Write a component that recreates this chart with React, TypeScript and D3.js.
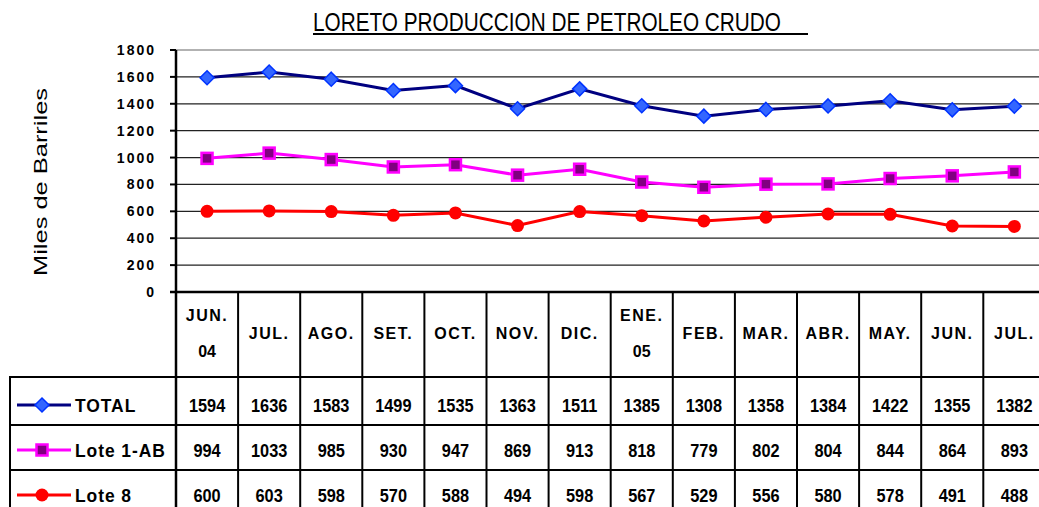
import React, { useEffect } from "react";
import * as d3 from "d3";

const months = ["JUN.|04", "JUL.", "AGO.", "SET.", "OCT.", "NOV.", "DIC.", "ENE.|05", "FEB.", "MAR.", "ABR.", "MAY.", "JUN.", "JUL."];
const total = [1594, 1636, 1583, 1499, 1535, 1363, 1511, 1385, 1308, 1358, 1384, 1422, 1355, 1382];
const lote1AB = [994, 1033, 985, 930, 947, 869, 913, 818, 779, 802, 804, 844, 864, 893];
const lote8 = [600, 603, 598, 570, 588, 494, 598, 567, 529, 556, 580, 578, 491, 488];
const yTicks = [0, 200, 400, 600, 800, 1000, 1200, 1400, 1600, 1800];

const W = 1039;
const H = 507;
const FONT = "'Liberation Sans', Arial, sans-serif";

const series = [
  { name: "TOTAL", values: total, line: "#000080", fill: "#3366ff", stroke: "#0033ff", shape: "diamond" },
  { name: "Lote 1-AB", values: lote1AB, line: "#ff00ff", fill: "#800080", stroke: "#ff00ff", shape: "square" },
  { name: "Lote 8", values: lote8, line: "#ff0000", fill: "#ff0000", stroke: "#ff0000", shape: "circle" },
];

const Marker = ({ shape, x, y, fill, stroke }: any) => {
  if (shape === "diamond")
    return <path d={`M${x},${y - 7}L${x + 7},${y}L${x},${y + 7}L${x - 7},${y}Z`} fill={fill} stroke={stroke} strokeWidth={1.5} />;
  if (shape === "square")
    return <rect x={x - 5.5} y={y - 5.5} width={11} height={11} fill={fill} stroke={stroke} strokeWidth={2.5} />;
  return <circle cx={x} cy={y} r={6.5} fill={fill} />;
};

export default function App() {
  useEffect(() => {
    document.body.style.margin = "0";
  }, []);

  const x0 = 176;
  const colW = 62.1;
  const x = d3.scaleBand<string>().domain(months.map((m, i) => i + "")).range([x0, x0 + colW * months.length]).padding(0);
  const cx = (i: number) => (x(i + "") as number) + x.bandwidth() / 2;
  const y = d3.scaleLinear().domain([0, 1800]).range([292, 50]);

  const headerBottom = 377;
  const rowLines = [377, 425, 470];
  const rowCenters = [405, 450, 495];
  const rowBase = [412, 457, 502];

  const line = d3.line<number>().x((_, i) => cx(i)).y((d) => y(d));

  return (
    <svg width={W} height={H} style={{ display: "block", background: "#fff" }} fontFamily={FONT}>
      {/* title */}
      <text x={313} y={31} fontSize={25} textLength={468} lengthAdjust="spacingAndGlyphs" fill="#000">
        LORETO PRODUCCION DE PETROLEO CRUDO
      </text>
      <line x1={313} x2={808} y1={34} y2={34} stroke="#000" strokeWidth={2} />

      {/* y label */}
      <text transform="translate(47,182) rotate(-90)" textAnchor="middle" fontSize={18} textLength={188} lengthAdjust="spacingAndGlyphs" fill="#000">
        Miles de Barriles
      </text>

      {/* grid */}
      {yTicks.filter((t) => t > 0).map((t) => (
        <line key={t} x1={x0} x2={W} y1={y(t)} y2={y(t)} stroke={t === 1800 ? "#999" : "#222"} strokeWidth={1.3} />
      ))}
      {yTicks.map((t) => (
        <g key={"t" + t}>
          <line x1={x0 - 6} x2={x0} y1={y(t)} y2={y(t)} stroke="#000" strokeWidth={2} />
          <text x={156} y={y(t) + 5} textAnchor="end" fontSize={14} fontWeight="bold" letterSpacing={2}>{t}</text>
        </g>
      ))}

      {/* axes and table */}
      <line x1={x0} x2={x0} y1={50} y2={H} stroke="#000" strokeWidth={2.5} />
      <line x1={x0 - 6} x2={W} y1={292} y2={292} stroke="#000" strokeWidth={2.5} />
      {months.map((m, i) => i > 0 && (
        <line key={"v" + i} x1={x(i + "")} x2={x(i + "")} y1={292} y2={H} stroke="#000" strokeWidth={2} />
      ))}
      {rowLines.map((r) => (
        <line key={"r" + r} x1={10} x2={W} y1={r} y2={r} stroke="#000" strokeWidth={2} />
      ))}
      <line x1={10} x2={10} y1={headerBottom - 1} y2={H} stroke="#000" strokeWidth={2} />

      {/* category labels */}
      {months.map((m, i) => {
        const parts = m.split("|");
        return parts.length === 1 ? (
          <text key={"m" + i} x={cx(i)} y={339} textAnchor="middle" fontSize={16} fontWeight="bold" letterSpacing={1.5}>{parts[0]}</text>
        ) : (
          <g key={"m" + i}>
            <text x={cx(i)} y={321} textAnchor="middle" fontSize={16} fontWeight="bold" letterSpacing={1.5}>{parts[0]}</text>
            <text x={cx(i)} y={357} textAnchor="middle" fontSize={16} fontWeight="bold">{parts[1]}</text>
          </g>
        );
      })}

      {/* series */}
      {series.map((s) => (
        <g key={s.name}>
          <path d={line(s.values) || ""} fill="none" stroke={s.line} strokeWidth={3} />
          {s.values.map((v, i) => (
            <Marker key={i} shape={s.shape} x={cx(i)} y={y(v)} fill={s.fill} stroke={s.stroke} />
          ))}
        </g>
      ))}

      {/* table rows */}
      {series.map((s, r) => (
        <g key={"row" + s.name}>
          <line x1={17} x2={71} y1={rowCenters[r]} y2={rowCenters[r]} stroke={s.line} strokeWidth={3} />
          <Marker shape={s.shape} x={42} y={rowCenters[r]} fill={s.fill} stroke={s.stroke} />
          <text transform={`translate(75,${rowBase[r]}) scale(0.92,1)`} fontSize={19} fontWeight="bold" letterSpacing={1}>{s.name}</text>
          {s.values.map((v, i) => (
            <text key={i} transform={`translate(${cx(i)},${rowBase[r]}) scale(0.86,1)`} textAnchor="middle" fontSize={19} fontWeight="bold">{v}</text>
          ))}
        </g>
      ))}
    </svg>
  );
}
